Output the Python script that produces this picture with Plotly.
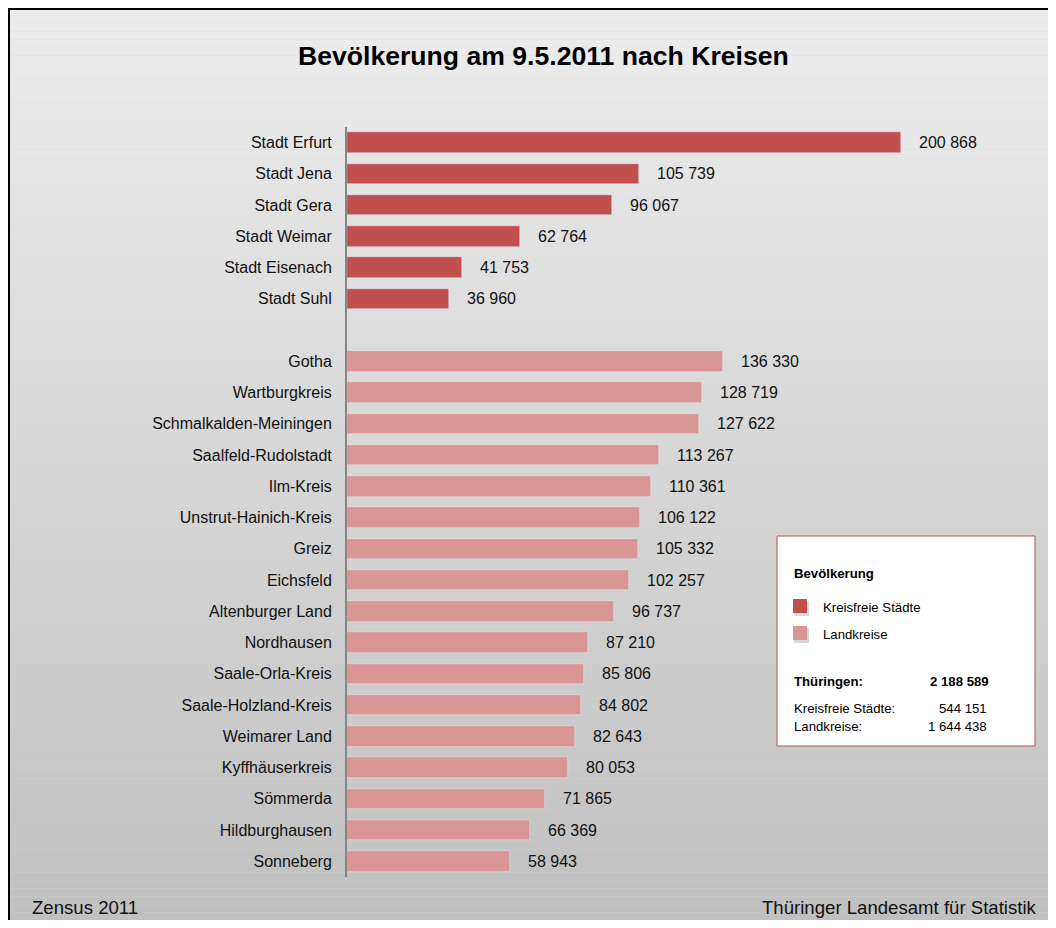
import plotly.graph_objects as go

# ---------------- data ----------------
staedte = ["Stadt Erfurt", "Stadt Jena", "Stadt Gera", "Stadt Weimar", "Stadt Eisenach", "Stadt Suhl"]
staedte_vals = [200868, 105739, 96067, 62764, 41753, 36960]

kreise = ["Gotha", "Wartburgkreis", "Schmalkalden-Meiningen", "Saalfeld-Rudolstadt", "Ilm-Kreis",
          "Unstrut-Hainich-Kreis", "Greiz", "Eichsfeld", "Altenburger Land", "Nordhausen",
          "Saale-Orla-Kreis", "Saale-Holzland-Kreis", "Weimarer Land", "Kyffhäuserkreis",
          "Sömmerda", "Hildburghausen", "Sonneberg"]
kreise_vals = [136330, 128719, 127622, 113267, 110361, 106122, 105332, 102257, 96737, 87210,
               85806, 84802, 82643, 80053, 71865, 66369, 58943]

total_label = "Thüringen:"
total_val = 2188589
sum_staedte = 544151
sum_kreise = 1644438

title = "Bevölkerung am 9.5.2011 nach Kreisen"
legend_title = "Bevölkerung"
series_names = ["Kreisfreie Städte", "Landkreise"]
footer_left = "Zensus 2011"
footer_right = "Thüringer Landesamt für Statistik"

C_DARK = "#c0504d"
C_LIGHT = "#d99694"
FONT = "Liberation Sans, Arial, sans-serif"
TXT = "#111111"


def fmt(v):
    return f"{v:,}".replace(",", " ")


# positions: cities 0..5, gap at 6, districts 7..23
pos_st = list(range(len(staedte)))
pos_kr = [len(staedte) + 1 + i for i in range(len(kreise))]

OFF = 8  # page body margin
W, H = 1056 - 2 * OFF, 928 - 2 * OFF
ML, MT = 347 - OFF, 127 - OFF
PR, PB = 1000 - OFF, 877 - OFF
MR, MB = W - PR, H - PB
PW, PH = PR - ML, PB - MT
XMAX = 200868 * PW / 554.0


def px(x):  # reference screen x -> paper
    return (x - OFF - ML) / PW


def py(y):  # reference screen y -> paper
    return (PB - (y - OFF)) / PH


fig = go.Figure()
fig.add_trace(go.Bar(x=staedte_vals, y=pos_st, orientation="h", marker_color=C_DARK,
                     width=0.66, name=series_names[0], showlegend=False, hoverinfo="x"))
fig.add_trace(go.Bar(x=kreise_vals, y=pos_kr, orientation="h", marker_color=C_LIGHT,
                     width=0.66, name=series_names[1], showlegend=False, hoverinfo="x"))

annotations = []
for v, p in list(zip(staedte_vals, pos_st)) + list(zip(kreise_vals, pos_kr)):
    annotations.append(dict(x=v, y=p, xref="x", yref="y", text=fmt(v), showarrow=False,
                            xanchor="left", yanchor="middle", xshift=16,
                            font=dict(family=FONT, size=16, color=TXT)))

# title
annotations.append(dict(x=px(543), y=py(56), xref="paper", yref="paper", text=f"<b>{title}</b>",
                        showarrow=False, xanchor="center", yanchor="middle",
                        font=dict(family=FONT, size=26.6, color="#000000")))
# footer
annotations.append(dict(x=px(30), y=py(908), xref="paper", yref="paper", text=footer_left,
                        showarrow=False, xanchor="left", yanchor="middle",
                        font=dict(family=FONT, size=18.6, color=TXT)))
annotations.append(dict(x=px(1039), y=py(908), xref="paper", yref="paper", text=footer_right,
                        showarrow=False, xanchor="right", yanchor="middle",
                        font=dict(family=FONT, size=18.6, color=TXT)))

# legend box content
lf = dict(family=FONT, size=13.2, color="#000000")
annotations += [
    dict(x=px(792), y=py(573), text=f"<b>{legend_title}</b>", xanchor="left"),
    dict(x=px(821), y=py(607), text=series_names[0], xanchor="left"),
    dict(x=px(821), y=py(634), text=series_names[1], xanchor="left"),
    dict(x=px(792), y=py(681), text=f"<b>{total_label}</b>", xanchor="left"),
    dict(x=px(991), y=py(681), text=f"<b>{fmt(total_val)}</b>", xanchor="right"),
    dict(x=px(792), y=py(708), text=series_names[0] + ":", xanchor="left"),
    dict(x=px(989), y=py(708), text=fmt(sum_staedte), xanchor="right"),
    dict(x=px(792), y=py(726), text=series_names[1] + ":", xanchor="left"),
    dict(x=px(989), y=py(726), text=fmt(sum_kreise), xanchor="right"),
]
for a in annotations[-9:]:
    a.update(xref="paper", yref="paper", showarrow=False, yanchor="middle", font=lf)

# background gradient as thin horizontal bands (#ededed at top -> #c0c0c0 at bottom)
shapes = []
NB = 116
for i in range(NB):
    y0 = OFF + H * i / NB
    y1 = OFF + H * (i + 1) / NB
    t = (i + 0.5) / NB
    c = round(0xED + (0xC0 - 0xED) * t)
    shapes.append(dict(type="rect", xref="paper", yref="paper", x0=px(OFF), x1=px(OFF + W),
                       y0=py(y0), y1=py(y1), fillcolor=f"rgb({c},{c},{c})",
                       line=dict(width=0), layer="below"))

shapes += [
    # frame (left + top)
    dict(type="line", xref="paper", yref="paper", x0=px(OFF + 1), x1=px(OFF + 1), y0=py(OFF + 1),
         y1=py(H + OFF), line=dict(color="#000000", width=2)),
    dict(type="line", xref="paper", yref="paper", x0=px(OFF), x1=px(W + OFF), y0=py(OFF + 1),
         y1=py(OFF + 1), line=dict(color="#000000", width=2)),
    # legend box
    dict(type="rect", xref="paper", yref="paper", x0=px(777), x1=px(1035), y0=py(536), y1=py(746),
         fillcolor="white", line=dict(color="#b5504d", width=1), layer="below"),
    # legend swatch shadows
    dict(type="rect", xref="paper", yref="paper", x0=px(794), x1=px(809), y0=py(601), y1=py(616),
         fillcolor="rgba(0,0,0,0.15)", line=dict(width=0)),
    dict(type="rect", xref="paper", yref="paper", x0=px(794), x1=px(809), y0=py(628), y1=py(643),
         fillcolor="rgba(0,0,0,0.15)", line=dict(width=0)),
    dict(type="rect", xref="paper", yref="paper", x0=px(793), x1=px(807), y0=py(599), y1=py(613),
         fillcolor=C_DARK, line=dict(width=0)),
    dict(type="rect", xref="paper", yref="paper", x0=px(793), x1=px(807), y0=py(626), y1=py(640),
         fillcolor=C_LIGHT, line=dict(width=0)),
]

fig.update_layout(
    width=W, height=H,
    margin=dict(l=ML, r=MR, t=MT, b=MB, pad=0),
    paper_bgcolor="#d6d6d6",
    plot_bgcolor="rgba(0,0,0,0)",
    showlegend=False,
    bargap=0,
    annotations=annotations,
    shapes=shapes,
    xaxis=dict(range=[0, XMAX], showgrid=False, zeroline=False, showticklabels=False,
               showline=False, ticks="", fixedrange=True),
    yaxis=dict(range=[len(staedte) + len(kreise) + 0.5, -0.5], tickmode="array",
               tickvals=pos_st + pos_kr, ticktext=staedte + kreise,
               showgrid=False, zeroline=False, showline=True, linecolor="#868686", linewidth=2,
               ticks="outside", ticklen=10, tickcolor="rgba(0,0,0,0)",
               tickfont=dict(family=FONT, size=16, color=TXT), fixedrange=True),
)

fig.write_html("out.html")
